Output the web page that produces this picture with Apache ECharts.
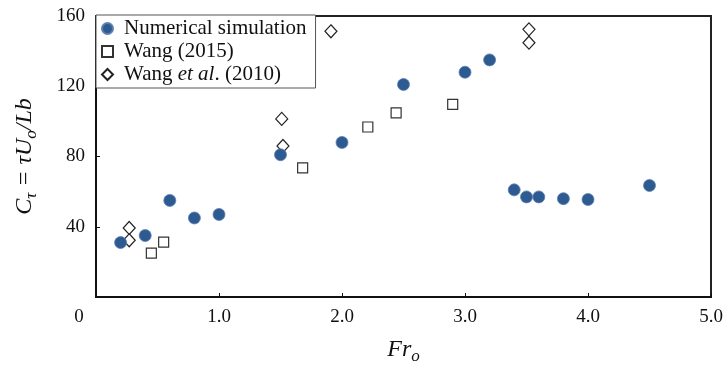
<!DOCTYPE html>
<html><head><meta charset="utf-8">
<script src="https://cdn.jsdelivr.net/npm/echarts@6/dist/echarts.min.js"></script>
<style>html,body{margin:0;padding:0;background:#fff}#c{width:724px;height:365px}</style>
</head><body><div id="c"></div>
<script>
var numX = [0.2, 0.4, 0.6, 0.8, 1.0, 1.5, 2.0, 2.5, 3.0, 3.2, 3.4, 3.5, 3.6, 3.8, 4.0, 4.5];
var numY = [31, 35, 55, 45, 47, 81, 88, 121, 128, 135, 61, 57, 57, 56, 55.5, 63.5];
var wang15X = [0.45, 0.55, 1.68, 2.21, 2.44, 2.9];
var wang15Y = [25, 31.3, 73.5, 96.8, 104.8, 109.7];
var wang10X = [0.27, 0.27, 1.51, 1.52, 1.91, 3.52, 3.52];
var wang10Y = [39.3, 32.3, 101.4, 86, 151.3, 152.4, 144.8];
var xTicks = [0, 1, 2, 3, 4, 5];
var yTicks = [40, 80, 120, 160];

function pairs(xs, ys){ return xs.map(function(x,i){ return [x, ys[i]]; }); }
var font = '"Liberation Serif", "Times New Roman", serif';
var chart = echarts.init(document.getElementById('c'), null, {renderer:'canvas'});
chart.setOption({
  animation: false,
  backgroundColor: '#fff',
  grid: {left: 96, right: 13, top: 16, bottom: 68, containLabel: false, outerBoundsMode: 'none',
         show: true, borderColor: '#222', borderWidth: 2, backgroundColor: 'transparent'},
  legend: {
    orient: 'vertical', left: 96, top: 15, padding: [3, 9, 3, 5],
    itemWidth: 11, itemHeight: 11, itemGap: 2,
    backgroundColor: '#fff', borderColor: '#555', borderWidth: 1,
    textStyle: {fontFamily: font, fontSize: 21, color: '#111', lineHeight: 20, padding: [0,0,0,6],
      rich: {i: {fontFamily: font, fontSize: 21, fontStyle: 'italic', color: '#111', lineHeight: 20}}},
    formatter: function(n){ return n === 'Wang et al. (2010)' ? 'Wang {i|et al}. (2010)' : n; },
    data: ['Numerical simulation', 'Wang (2015)', 'Wang et al. (2010)']
  },
  xAxis: {
    type: 'value', min: 0, max: 5, interval: 1,
    name: '{a|Fr}{s|o}', nameLocation: 'middle', nameGap: 37,
    nameTextStyle: {rich: {
      a: {fontFamily: font, fontSize: 24, fontStyle: 'italic', color: '#111'},
      s: {fontFamily: font, fontSize: 17, fontStyle: 'italic', color: '#111', padding: [14,0,0,0]}
    }},
    axisLine: {lineStyle: {color: '#111', width: 2}},
    axisTick: {show: true, inside: true, length: 4, lineStyle: {color: '#111'}},
    splitLine: {show: false},
    axisLabel: {margin: 11, fontFamily: font, fontSize: 19, color: '#111',
      formatter: function(v){ return v === 0 ? '{z|0}' : v.toFixed(1); },
      rich: {z: {fontFamily: font, fontSize: 19, color: '#111', padding: [0, 34, 0, 0]}}}
  },
  yAxis: {
    type: 'value', min: 0, max: 160, interval: 40,
    name: '{a|C}{s|τ}{a| = τU}{s|o}{a|/Lb}', nameLocation: 'middle', nameGap: 56, nameRotate: 90,
    nameTextStyle: {rich: {
      a: {fontFamily: font, fontSize: 24, fontStyle: 'italic', color: '#111'},
      s: {fontFamily: font, fontSize: 17, fontStyle: 'italic', color: '#111', padding: [13,0,0,0]}
    }},
    axisLine: {show: true, lineStyle: {color: '#111', width: 2}},
    axisTick: {show: true, inside: true, length: 4, lineStyle: {color: '#111'}},
    splitLine: {show: false},
    axisLabel: {margin: 11, fontFamily: font, fontSize: 19, color: '#111',
      formatter: function(v){ return yTicks.indexOf(v) >= 0 ? String(v) : ''; }}
  },
  series: [
    {name: 'Numerical simulation', type: 'scatter', symbol: 'circle', symbolSize: 12, z: 3,
     itemStyle: {color: '#2e5a92', borderColor: '#5d7fae', borderWidth: 0.8, opacity: 1},
     data: pairs(numX, numY)},
    {name: 'Wang (2015)', type: 'scatter', symbol: 'rect', symbolSize: 10, z: 2,
     itemStyle: {color: '#fff', borderColor: '#333', borderWidth: 1.2, opacity: 1},
     data: pairs(wang15X, wang15Y)},
    {name: 'Wang et al. (2010)', type: 'scatter', symbol: 'diamond', symbolSize: [12, 13], z: 2,
     itemStyle: {color: '#fff', borderColor: '#222', borderWidth: 1.2, opacity: 1},
     data: pairs(wang10X, wang10Y)}
  ]
});
</script></body></html>
